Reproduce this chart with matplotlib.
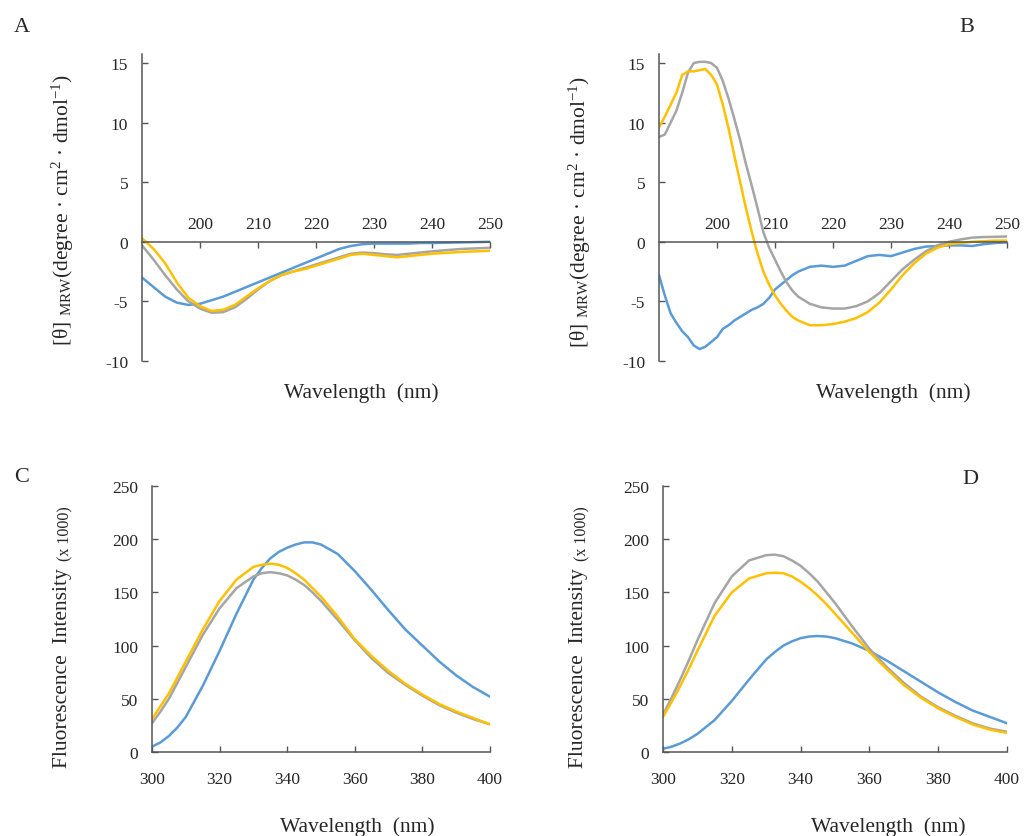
import matplotlib
matplotlib.use("Agg")
import matplotlib.pyplot as plt

plt.rcParams['font.family'] = ['Liberation Serif', 'DejaVu Serif']
plt.rcParams['mathtext.fontset'] = 'custom'
plt.rcParams['mathtext.rm'] = 'Liberation Serif'
plt.rcParams['mathtext.it'] = 'Liberation Serif:italic'
plt.rcParams['axes.unicode_minus'] = False

# CD spectra, panel A
wl_a = [190, 192, 194, 196, 198, 200, 202, 204, 206, 208, 210, 212, 214, 216, 218, 220,
        222, 224, 226, 228, 230, 232, 234, 236, 238, 240, 245, 250]
a_blue = [-3.0, -3.8, -4.6, -5.1, -5.3, -5.2, -4.9, -4.6, -4.2, -3.8, -3.4, -3.0, -2.6, -2.2,
          -1.8, -1.4, -1.0, -0.6, -0.35, -0.2, -0.15, -0.15, -0.15, -0.15, -0.1, -0.1, -0.05, 0.0]
a_gray = [-0.3, -1.5, -2.8, -4.0, -5.0, -5.6, -5.95, -5.9, -5.5, -4.8, -4.0, -3.3, -2.8, -2.5,
          -2.2, -1.9, -1.6, -1.3, -1.0, -0.9, -0.95, -1.05, -1.1, -1.0, -0.9, -0.8, -0.6, -0.5]
a_yellow = [0.3, -0.6, -1.8, -3.4, -4.7, -5.4, -5.8, -5.7, -5.3, -4.6, -3.9, -3.3, -2.8, -2.5,
            -2.3, -2.0, -1.7, -1.4, -1.1, -1.0, -1.1, -1.2, -1.3, -1.2, -1.1, -1.0, -0.85, -0.75]

# CD spectra, panel B
wl_b = [190, 191, 192, 193, 194, 195, 196, 197, 198, 199, 200, 201, 202, 203, 204, 205, 206,
        207, 208, 209, 210, 211, 212, 213, 214, 216, 218, 220, 222, 224, 226, 228, 230, 232,
        234, 236, 238, 240, 242, 244, 246, 248, 250]
b_gray = [8.8, 9.0, 10.0, 11.0, 12.5, 14.2, 15.0, 15.1, 15.1, 15.0, 14.6, 13.5, 12.0, 10.3, 8.5,
          6.5, 4.7, 2.8, 0.8, -0.5, -1.5, -2.5, -3.4, -4.1, -4.6, -5.2, -5.5, -5.6, -5.6, -5.4,
          -5.0, -4.3, -3.3, -2.3, -1.5, -0.8, -0.3, 0.0, 0.2, 0.35, 0.4, 0.42, 0.45]
b_yellow = [9.6, 10.5, 11.5, 12.5, 14.0, 14.3, 14.3, 14.4, 14.5, 14.0, 13.2, 11.5, 9.5, 7.2, 5.0,
            2.8, 0.8, -1.0, -2.5, -3.6, -4.5, -5.2, -5.8, -6.3, -6.6, -7.0, -7.0, -6.9, -6.7,
            -6.4, -5.9, -5.1, -4.0, -2.8, -1.8, -1.0, -0.5, -0.2, -0.1, 0.0, 0.05, 0.1, 0.1]
b_blue = [-2.8, -4.5, -6.0, -6.8, -7.5, -8.0, -8.7, -9.0, -8.8, -8.4, -8.0, -7.3, -7.0, -6.6,
          -6.3, -6.0, -5.7, -5.5, -5.2, -4.7, -4.0, -3.6, -3.2, -2.8, -2.5, -2.1, -2.0, -2.1,
          -2.0, -1.6, -1.2, -1.1, -1.2, -0.9, -0.6, -0.4, -0.35, -0.3, -0.3, -0.35, -0.2, -0.1, -0.05]

# fluorescence spectra
wl_f = [300, 302.5, 305, 307.5, 310, 315, 320, 325, 330, 332.5, 335, 337.5, 340, 342.5, 345,
        347.5, 350, 355, 360, 365, 370, 375, 380, 385, 390, 395, 400]
c_blue = [5, 9, 15, 23, 33, 62, 95, 130, 162, 173, 182, 188, 192, 195, 197, 197, 195, 186, 170,
          152, 133, 115, 100, 85, 72, 61, 52]
c_gray = [27, 38, 50, 65, 80, 110, 135, 154, 165, 168, 169, 168, 166, 162, 157, 150, 142, 124,
          105, 88, 74, 63, 53, 44, 37, 31, 26]
c_yellow = [31, 43, 55, 70, 85, 115, 142, 162, 174, 176, 177, 176, 173, 168, 162, 154, 146, 127,
            106, 90, 76, 64, 54, 45, 38, 32, 26]
d_blue = [3, 5, 8, 12, 17, 30, 48, 68, 87, 94, 100, 104, 107, 108.5, 109, 108.5, 107, 102, 95,
          86, 76, 66, 56, 47, 39, 33, 27]
d_gray = [35, 51, 68, 86, 105, 140, 165, 180, 185, 185.5, 184, 180, 175, 168, 160, 150, 140,
          118, 97, 80, 65, 52, 42, 34, 27, 22, 19]
d_yellow = [33, 47, 62, 78, 95, 128, 150, 163, 168, 168.5, 168, 165, 160, 154, 147, 139, 130,
            112, 94, 78, 63, 51, 41, 33, 26, 21, 18]

BLUE = '#5B9BD5'
GRAY = '#A5A5A5'
YELLOW = '#FFC000'
AXC = '#555555'
TXT = '#262626'

W, H = 1024, 837
fig = plt.figure(figsize=(W / 100, H / 100), dpi=100)


def box(l, r, t, b):
    return [l / W, 1 - b / H, (r - l) / W, (b - t) / H]


def style(ax):
    ax.spines['right'].set_visible(False)
    for s in ['left', 'bottom', 'top']:
        ax.spines[s].set_color(AXC)
        ax.spines[s].set_linewidth(1.1)
    ax.tick_params(colors=AXC, labelcolor=TXT, labelsize=12.5, length=4, width=1, direction='in')


def cd_panel(ax, x, blue, gray, yellow):
    ax.plot(x, blue, color=BLUE, lw=1.8)
    ax.plot(x, gray, color=GRAY, lw=1.8)
    ax.plot(x, yellow, color=YELLOW, lw=1.8)
    style(ax)
    ax.spines['bottom'].set_visible(False)
    ax.spines['top'].set_position(('data', 0))
    ax.xaxis.set_ticks_position('top')
    ax.set_xlim(190, 250)
    ax.set_ylim(-10, 15.8)
    ax.set_xticks([200, 210, 220, 230, 240, 250])
    ax.set_yticks([-10, -5, 0, 5, 10, 15])
    ax.tick_params(axis='x', pad=7)
    ax.tick_params(axis='y', pad=10)


def fl_panel(ax, x, blue, gray, yellow):
    ax.plot(x, blue, color=BLUE, lw=1.8)
    ax.plot(x, gray, color=GRAY, lw=1.8)
    ax.plot(x, yellow, color=YELLOW, lw=1.8)
    style(ax)
    ax.spines['top'].set_visible(False)
    ax.set_xlim(300, 400)
    ax.set_ylim(0, 250)
    ax.set_xticks([300, 320, 340, 360, 380, 400])
    ax.set_yticks([0, 50, 100, 150, 200, 250])
    ax.tick_params(axis='x', pad=14)
    ax.tick_params(axis='y', pad=10)


ax_a = fig.add_axes(box(142, 490, 54.5, 362))
cd_panel(ax_a, wl_a, a_blue, a_gray, a_yellow)
ax_b = fig.add_axes(box(659, 1007, 54.5, 362))
cd_panel(ax_b, wl_b, b_blue, b_gray, b_yellow)
ax_c = fig.add_axes(box(152, 490, 487, 753))
fl_panel(ax_c, wl_f, c_blue, c_gray, c_yellow)
ax_d = fig.add_axes(box(663, 1007, 487, 753))
fl_panel(ax_d, wl_f, d_blue, d_gray, d_yellow)

cd_label = r'[θ] $_{\rm MRW}$(degree · cm$^{2}$ · dmol$^{-1}$)'
fig.text(63 / W, 1 - 210 / H, cd_label, rotation=90, ha='center', va='center', fontsize=15.5, color=TXT)
fig.text(580 / W, 1 - 212 / H, cd_label, rotation=90, ha='center', va='center', fontsize=15.5, color=TXT)

for xpx in [62, 579]:
    fig.text(xpx / W, 1 - 768 / H, 'Fluorescence  Intensity', rotation=90, ha='center', va='bottom',
             fontsize=15.5, color=TXT)
    fig.text((xpx + 3) / W, 1 - 561 / H, '(x 1000)', rotation=90, ha='center', va='bottom',
             fontsize=11.5, color=TXT)

fig.text(361 / W, 1 - 393 / H, 'Wavelength  (nm)', ha='center', va='center', fontsize=15.5, color=TXT)
fig.text(893 / W, 1 - 393 / H, 'Wavelength  (nm)', ha='center', va='center', fontsize=15.5, color=TXT)
fig.text(357 / W, 1 - 827 / H, 'Wavelength  (nm)', ha='center', va='center', fontsize=15.5, color=TXT)
fig.text(888 / W, 1 - 827 / H, 'Wavelength  (nm)', ha='center', va='center', fontsize=15.5, color=TXT)

fig.text(22 / W, 1 - 28 / H, 'A', ha='center', va='center', fontsize=16, color=TXT)
fig.text(967 / W, 1 - 28 / H, 'B', ha='center', va='center', fontsize=16, color=TXT)
fig.text(22 / W, 1 - 478 / H, 'C', ha='center', va='center', fontsize=16, color=TXT)
fig.text(970 / W, 1 - 480 / H, 'D', ha='center', va='center', fontsize=16, color=TXT)

fig.savefig('out.png', dpi=100)
